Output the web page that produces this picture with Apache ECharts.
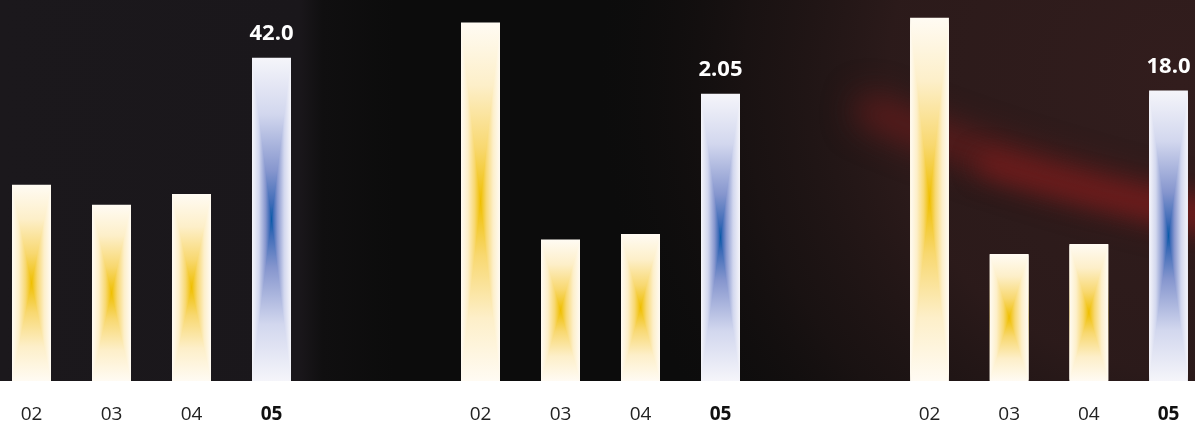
<!DOCTYPE html>
<html>
<head>
<meta charset="utf-8">
<script src="https://cdn.jsdelivr.net/npm/echarts@6/dist/echarts.min.js"></script>
<style>
  html, body { margin: 0; padding: 0; background: #ffffff; }
  #chart { width: 1195px; height: 421px; }
</style>
</head>
<body>
<div id="chart"></div>
<script>
// Years shown under each group of bars
const categories = ['02', '03', '04', '05'];

// Three independent indicator panels, one series each
const panelA = [25.5, 22.9, 24.3, 42.0];
const panelB = [2.56, 1.01, 1.05, 2.05];
const panelC = [22.5, 7.87, 8.49, 18.0];

// Upper limit of each panel's value axis
const panelMax = [49.5, 2.72, 23.6];

// Decimals used in the value shown above the latest year
const labelDecimals = [1, 2, 1];

const panels = [panelA, panelB, panelC];

// Colour ramps, from bar edge (0) to bar centre (1)
const goldRamp = [[0, '#fffbf3'], [0.35, '#fdefc9'], [0.7, '#f8d870'], [1, '#efbf00']];
const blueRamp = [[0, '#f5f5fa'], [0.35, '#d2d7ee'], [0.7, '#8696ce'], [0.9, '#3f6cb8'], [1, '#0a5aa8']];

function stops(ramp) {
  return ramp.map(([o, c]) => ({ offset: o, color: c }));
}
function mirrored(ramp) {
  const first = ramp.map(([o, c]) => ({ offset: o / 2, color: c }));
  const second = ramp.slice().reverse().map(([o, c]) => ({ offset: 1 - o / 2, color: c }));
  return first.concat(second);
}
function linear(x, y, x2, y2, colorStops) {
  return { type: 'linear', x: x, y: y, x2: x2, y2: y2, colorStops: colorStops };
}

// Bar with a rectangular (corner-to-centre) gradient and an optional value label
function makeRenderer(decimals) {
  return function (params, api) {
    const idx = api.value(0);
    const val = api.value(1);
    const top = api.coord([idx, val]);
    const base = api.coord([idx, 0]);
    const bw = api.size([1, 0])[0] * 0.4875;
    const cx = top[0];
    const x0 = cx - bw / 2, x1 = cx + bw / 2;
    const y0 = top[1], y1 = base[1];
    const cy = (y0 + y1) / 2;
    const ramp = idx === 3 ? blueRamp : goldRamp;

    const children = [
      {
        type: 'rect',
        shape: { x: x0, y: y0, width: bw, height: y1 - y0 },
        style: { fill: linear(0, 0, 0, 1, mirrored(ramp)) }
      },
      {
        type: 'polygon',
        shape: { points: [[x0, y0], [cx, cy], [x0, y1]] },
        style: { fill: linear(0, 0, 1, 0, stops(ramp)) }
      },
      {
        type: 'polygon',
        shape: { points: [[x1, y0], [cx, cy], [x1, y1]] },
        style: { fill: linear(1, 0, 0, 0, stops(ramp)) }
      }
    ];
    if (idx === 3) {
      children.push({
        type: 'text',
        x: cx,
        y: y0 - 24,
        style: {
          text: val.toFixed(decimals),
          fill: '#ffffff',
          fontFamily: '"Open Sans", sans-serif',
          fontWeight: 'bold',
          fontSize: 22,
          align: 'center',
          verticalAlign: 'middle'
        }
      });
    }
    return { type: 'group', children: children };
  };
}

// Category centres sit on the grid edges (boundaryGap off), 80px apart
const gridLayout = [
  { left: 31.5, width: 240 },
  { left: 480.5, width: 240 },
  { left: 929.5, width: 239 }
];

const option = {
  backgroundColor: '#ffffff',
  animation: false,
  graphic: [
    {
      type: 'rect', z: -20, silent: true,
      shape: { x: 0, y: 0, width: 1195, height: 381 },
      style: {
        fill: linear(0, 0, 1, 0, [
          { offset: 0, color: '#1b181c' },
          { offset: 0.25, color: '#1a171b' },
          { offset: 0.27, color: '#100f10' },
          { offset: 0.33, color: '#0c0c0c' },
          { offset: 1, color: '#0c0c0c' }
        ])
      }
    },
    {
      type: 'rect', z: -19, silent: true,
      shape: { x: 0, y: 0, width: 1195, height: 381 },
      style: {
        fill: {
          type: 'radial', x: 1180, y: 80, r: 580, global: true,
          colorStops: [
            { offset: 0, color: 'rgba(50,29,29,1)' },
            { offset: 0.5, color: 'rgba(45,27,27,0.95)' },
            { offset: 0.75, color: 'rgba(34,22,22,0.6)' },
            { offset: 1, color: 'rgba(20,15,15,0)' }
          ]
        }
      }
    },
    {
      // long faint red streak; only its blurred shadow lands in view
      type: 'bezierCurve', z: -18, silent: true,
      y: -1000,
      shape: { x1: 860, y1: 106, cpx1: 1000, cpy1: 168, x2: 1230, y2: 222 },
      style: {
        fill: null,
        stroke: 'rgba(120,28,28,0.9)',
        lineWidth: 26,
        shadowBlur: 34,
        shadowColor: 'rgba(120,28,28,0.9)',
        shadowOffsetX: 0,
        shadowOffsetY: 1000
      }
    },
    {
      // brighter right-hand part of the streak
      type: 'bezierCurve', z: -17, silent: true,
      y: -1000,
      shape: { x1: 980, y1: 162, cpx1: 1100, cpy1: 198, x2: 1230, y2: 220 },
      style: {
        fill: null,
        stroke: 'rgba(140,30,30,0.9)',
        lineWidth: 16,
        shadowBlur: 26,
        shadowColor: 'rgba(140,30,30,0.85)',
        shadowOffsetX: 0,
        shadowOffsetY: 1000
      }
    }
  ],
  grid: gridLayout.map(g => ({
    left: g.left, width: g.width, top: 0, bottom: 40,
    containLabel: false, outerBoundsMode: 'none'
  })),
  xAxis: gridLayout.map((g, i) => ({
    type: 'category',
    gridIndex: i,
    data: categories,
    boundaryGap: false,
    axisLine: { show: false },
    axisTick: { show: false },
    splitLine: { show: false },
    axisLabel: {
      margin: 24,
      fontSize: 19,
      color: '#222222',
      fontFamily: '"Open Sans", sans-serif',
      formatter: v => (v === '05' ? '{b|' + v + '}' : v),
      rich: { b: { fontWeight: 'bold', fontSize: 19, color: '#111111', fontFamily: '"Open Sans", sans-serif' } }
    }
  })),
  yAxis: panelMax.map((m, i) => ({
    type: 'value', gridIndex: i, min: 0, max: m, show: false, splitLine: { show: false }
  })),
  series: panels.map((vals, i) => ({
    type: 'custom',
    xAxisIndex: i,
    yAxisIndex: i,
    z: 5,
    clip: false,
    renderItem: makeRenderer(labelDecimals[i]),
    encode: { x: 0, y: 1 },
    data: vals.map((v, k) => [k, v])
  }))
};

const chart = echarts.init(document.getElementById('chart'), null, { renderer: 'canvas' });
chart.setOption(option);
</script>
</body>
</html>
